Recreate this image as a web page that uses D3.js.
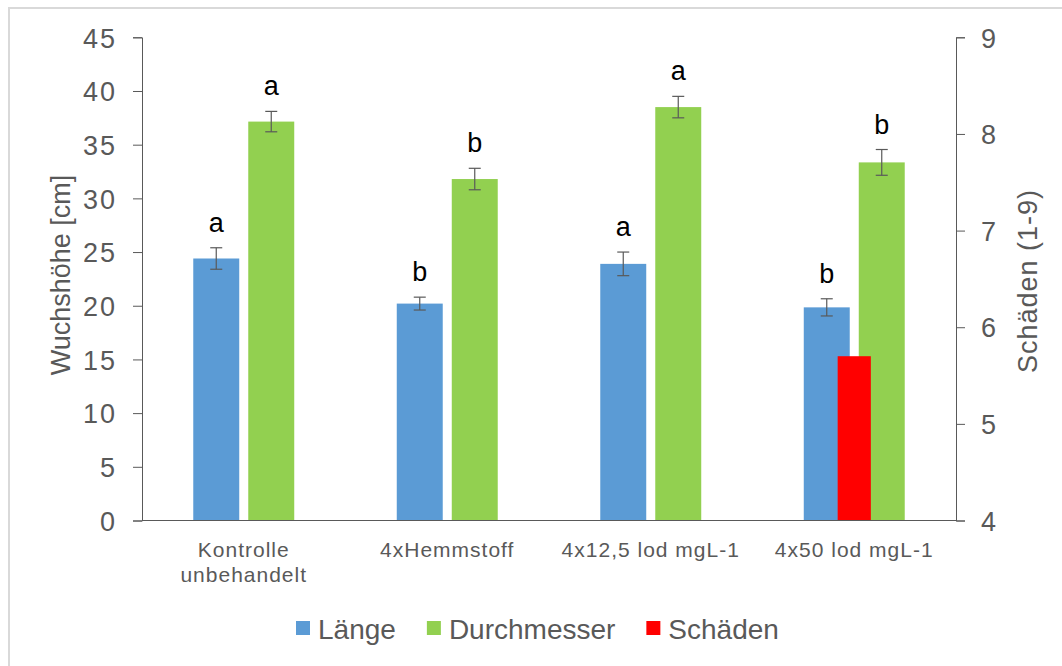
<!DOCTYPE html>
<html lang="de">
  <head>
    <meta charset="utf-8">
    <title>Wuchshöhe und Schäden</title>
    <style>
      body { margin: 0; background: #fff; }
      svg { display: block; font-family: "Liberation Sans", Arial, sans-serif; }
      .tick text { fill: #595959; }
    </style>
  </head>
  <body>
    <script src="https://cdn.jsdelivr.net/npm/d3@7"></script>
    <script>

    // data
    var categories = [["Kontrolle", "unbehandelt"], ["4xHemmstoff"], ["4x12,5 lod mgL-1"], ["4x50 lod mgL-1"]],
        laenge = [24.4, 20.2, 23.9, 19.85],
        laengeErr = [1.0, 0.6, 1.1, 0.8],
        laengeLetters = ["a", "b", "a", "b"],
        durchmesser = [37.15, 31.8, 38.5, 33.35],
        durchmesserErr = [0.95, 1.0, 1.0, 1.2],
        durchmesserLetters = ["a", "b", "a", "b"],
        schaeden = [null, null, null, 5.7],
        leftTicks = [0, 5, 10, 15, 20, 25, 30, 35, 40, 45],
        rightTicks = [4, 5, 6, 7, 8, 9];

    var w = 1062,
        h = 666,
        grey = "#595959",
        blue = "#5B9BD5",
        green = "#92D050",
        red = "#FF0000";

    var svg = d3.select("body").append("svg")
        .attr("width", w)
        .attr("height", h);

    svg.append("rect")
        .attr("width", w).attr("height", h)
        .attr("fill", "#fff");

    // chart frame (cut off on right and bottom)
    svg.append("rect")
        .attr("x", 9).attr("y", 8)
        .attr("width", 1100).attr("height", 700)
        .attr("fill", "none")
        .attr("stroke", "#d9d9d9")
        .attr("stroke-width", 2);

    var names = categories.map(function(c) { return c.join(" "); });

    var x = d3.scaleBand()
        .domain(names)
        .range([142, 956]);

    var x1 = d3.scaleBand()
        .domain(["Länge", "Durchmesser"])
        .range([0, x.bandwidth()])
        .paddingInner(0.164)
        .paddingOuter(0.932);

    var y = d3.scaleLinear().domain([0, 45]).range([520.5, 37.3]);
    var y2 = d3.scaleLinear().domain([4, 9]).range([520.5, 37.3]);

    var series = [
      {name: "Länge", values: laenge, err: laengeErr, letters: laengeLetters, color: blue},
      {name: "Durchmesser", values: durchmesser, err: durchmesserErr, letters: durchmesserLetters, color: green}
    ];

    var rows = [];
    series.forEach(function(s) {
      s.values.forEach(function(v, i) {
        rows.push({cat: names[i], key: s.name, value: v, err: s.err[i], letter: s.letters[i], color: s.color});
      });
    });

    var bars = svg.append("g").attr("class", "bars");

    bars.selectAll("rect")
        .data(rows)
      .enter().append("rect")
        .attr("x", function(d) { return x(d.cat) + x1(d.key); })
        .attr("y", function(d) { return y(d.value); })
        .attr("width", x1.bandwidth())
        .attr("height", function(d) { return y(0) - y(d.value); })
        .attr("fill", function(d) { return d.color; });

    // secondary axis bars, centred on the group
    var redW = x.bandwidth() * 0.163;
    bars.selectAll("rect.schaden")
        .data(schaeden.map(function(v, i) { return {cat: names[i], value: v}; })
          .filter(function(d) { return d.value != null; }))
      .enter().append("rect")
        .attr("class", "schaden")
        .attr("x", function(d) { return x(d.cat) + x.bandwidth() / 2 - redW / 2; })
        .attr("y", function(d) { return y2(d.value); })
        .attr("width", redW)
        .attr("height", function(d) { return y2(4) - y2(d.value); })
        .attr("fill", red);

    // error bars
    var eb = svg.append("g").attr("class", "errors")
        .attr("stroke", grey).attr("stroke-width", 1.2);

    var eg = eb.selectAll("g")
        .data(rows)
      .enter().append("g")
        .attr("transform", function(d) {
          return "translate(" + (x(d.cat) + x1(d.key) + x1.bandwidth() / 2) + ",0)";
        });

    eg.append("line")
        .attr("y1", function(d) { return y(d.value + d.err); })
        .attr("y2", function(d) { return y(d.value - d.err); });
    eg.append("line")
        .attr("x1", -6).attr("x2", 6)
        .attr("y1", function(d) { return y(d.value + d.err); })
        .attr("y2", function(d) { return y(d.value + d.err); });
    eg.append("line")
        .attr("x1", -6).attr("x2", 6)
        .attr("y1", function(d) { return y(d.value - d.err); })
        .attr("y2", function(d) { return y(d.value - d.err); });

    // significance letters
    svg.append("g").selectAll("text")
        .data(rows)
      .enter().append("text")
        .attr("x", function(d) { return x(d.cat) + x1(d.key) + x1.bandwidth() / 2; })
        .attr("y", function(d) { return y(d.value + d.err) - 16; })
        .attr("text-anchor", "middle")
        .attr("font-size", 27)
        .attr("fill", "#000")
        .text(function(d) { return d.letter; });

    // left axis
    var yAxis = svg.append("g")
        .attr("transform", "translate(142,0)")
        .call(d3.axisLeft(y).tickValues(leftTicks).tickSize(9).tickPadding(16));
    yAxis.selectAll("text").attr("font-size", 27).attr("letter-spacing", 2).attr("dy", "0.36em");
    yAxis.selectAll("line, path").attr("stroke", grey);

    // right axis
    var y2Axis = svg.append("g")
        .attr("transform", "translate(956,0)")
        .call(d3.axisRight(y2).tickValues(rightTicks).tickFormat(d3.format("d")).tickSize(9).tickPadding(16));
    y2Axis.selectAll("text").attr("font-size", 27).attr("dy", "0.36em");
    y2Axis.selectAll("line, path").attr("stroke", grey);

    // x axis
    var xAxis = svg.append("g")
        .attr("transform", "translate(0," + y(0) + ")")
        .call(d3.axisBottom(x).tickSize(0).tickFormat(""));
    xAxis.select("path").attr("stroke", grey).attr("d", "M142,0H956");

    var catLabels = svg.append("g").selectAll("text")
        .data(categories)
      .enter().append("text")
        .attr("x", function(d, i) { return x(names[i]) + x.bandwidth() / 2; })
        .attr("y", 557)
        .attr("text-anchor", "middle")
        .attr("font-size", 21)
        .attr("letter-spacing", 1)
        .attr("fill", grey);
    catLabels.selectAll("tspan")
        .data(function(d) { return d; })
      .enter().append("tspan")
        .attr("x", function() { return this.parentNode.getAttribute("x"); })
        .attr("dy", function(d, i) { return i ? 25 : 0; })
        .text(function(d) { return d; });

    // axis titles
    svg.append("text")
        .attr("transform", "translate(70,275)rotate(-90)")
        .attr("text-anchor", "middle")
        .attr("font-size", 27)
        .attr("fill", grey)
        .text("Wuchshöhe [cm]");

    svg.append("text")
        .attr("transform", "translate(1037,281)rotate(-90)")
        .attr("text-anchor", "middle")
        .attr("font-size", 27)
        .attr("letter-spacing", 1)
        .attr("fill", grey)
        .text("Schäden (1-9)");

    // legend
    var legendItems = [
      {name: "Länge", color: blue},
      {name: "Durchmesser", color: green},
      {name: "Schäden", color: red}
    ];
    var legend = svg.append("g").attr("class", "legend");
    var lx = 296;
    legendItems.forEach(function(d) {
      legend.append("rect")
          .attr("x", lx).attr("y", 621)
          .attr("width", 14).attr("height", 14)
          .attr("fill", d.color);
      var t = legend.append("text")
          .attr("x", lx + 22).attr("y", 639)
          .attr("font-size", 28)
          .attr("fill", grey)
          .text(d.name);
      lx += 22 + t.node().getComputedTextLength() + 31;
    });

    </script>
  </body>
</html>
